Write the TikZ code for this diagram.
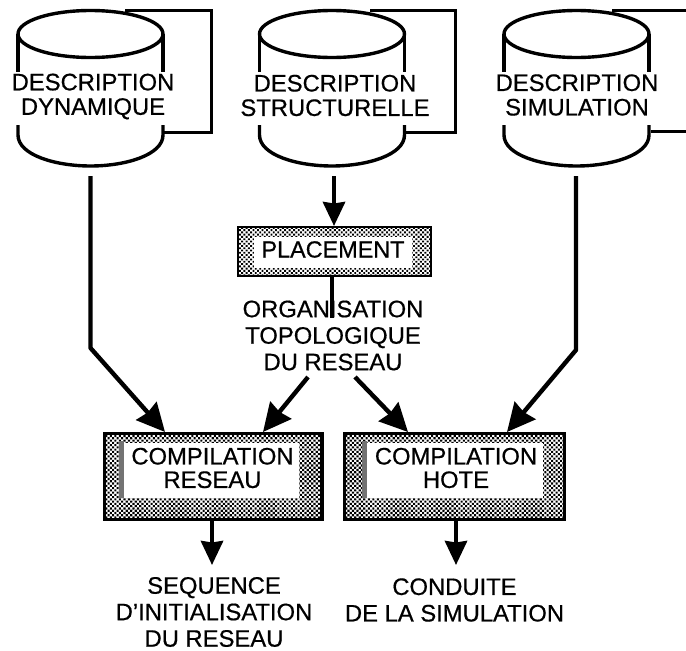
\documentclass[tikz,border=0pt]{standalone}
\usepackage{fontspec}
\setmainfont[FakeBold=0.6]{Liberation Sans}
\usetikzlibrary{arrows.meta,patterns.meta}
\tikzset{
  lbl/.style={font=\fontsize{23.8}{26.5}\selectfont,align=center,inner sep=0pt,text=black},
  flow/.style={line width=4.2pt,-{Stealth[length=24pt,width=22pt,inset=1.5pt]}},
  diag/.style={line width=4.4pt,-{Stealth[length=28pt,width=27pt,inset=2pt]}},
  plain/.style={line width=3pt},
  cyl/.style={line width=3.4pt},
  frame/.style={draw=black,pattern={Dots[radius=1.3pt,distance=3.2pt,angle=45]},pattern color=black},
  darkframe/.style={draw=black,line width=3.5pt,pattern={Dots[radius=1.5pt,distance=3.2pt,angle=45]},pattern color=black},
  inner/.style={fill=white,draw=none},
}
\newcommand{\cylinder}[1]{%
  \draw[cyl] (#1-72.5,34) arc[x radius=72.5,y radius=23.5,start angle=180,end angle=-180];
  \draw[cyl] (#1-72.5,34) -- (#1-72.5,72) (#1+72.5,34) -- (#1+72.5,72);
  \draw[cyl] (#1-72.5,125) -- (#1-72.5,135) .. controls (#1-72.5,155) and (#1-35,166) .. (#1,166)
     .. controls (#1+35,166) and (#1+72.5,155) .. (#1+72.5,135) -- (#1+72.5,125);
}
\begin{document}
\begin{tikzpicture}[x=1pt,y=-1pt]
\useasboundingbox (0,0) rectangle (686,651);
% cylinders and loops
\cylinder{90.5}
\cylinder{332}
\cylinder{576.5}
\coordinate (l1a) at (125,10); \coordinate (l1b) at (211,10); \coordinate (l1c) at (211,132); \coordinate (l1d) at (163,132);
\draw[plain] (l1a) -- (l1b) -- (l1c) -- (l1d);
\coordinate (l2a) at (370,10); \coordinate (l2b) at (455.5,10); \coordinate (l2c) at (455.5,132); \coordinate (l2d) at (405,132);
\draw[plain] (l2a) -- (l2b) -- (l2c) -- (l2d);
\coordinate (l3a) at (612,10); \coordinate (l3b) at (686,10); \coordinate (l3c) at (686,131); \coordinate (l3d) at (651,131);
\draw[plain] (l3a) -- (l3b) (l3c) -- (l3d);
% labels of the cylinders
\node[lbl] (d1) at (93,96.5) {DESCRIPTION\\[-2pt]DYNAMIQUE};
\node[lbl] (d2) at (335,95.5) {DESCRIPTION\\[-2pt]STRUCTURELLE};
\node[lbl] (d3) at (577,95) {DESCRIPTION\\[-2pt]SIMULATION};
% boxes
\path[frame,line width=2.5pt] (238,227) rectangle (431,276);
\fill[inner] (254,237) rectangle (412,268);
\path[darkframe] (104.5,433.5) rectangle (322,519.5);
\fill[black!55] (119,441) rectangle (124,498);
\fill[inner] (124,443) rectangle (299,498);
\path[darkframe] (344.5,433.5) rectangle (564.5,519.5);
\fill[black!55] (362,441) rectangle (367,498);
\fill[inner] (367,443) rectangle (543,498);
\node[lbl,font=\fontsize{23.4}{26}\selectfont] (pl) at (333,249.5) {PLACEMENT};
\node[lbl] (cr) at (212.5,468) {COMPILATION\\[-3pt]RESEAU};
\node[lbl] (ch) at (456,468) {COMPILATION\\[-3pt]HOTE};
% anchors
\coordinate (t1) at (90.5,176); \coordinate (t2) at (334,176); \coordinate (t3) at (576,176);
\coordinate (b1) at (90.5,348); \coordinate (b3) at (576,350);
\coordinate (pin) at (334,226); \coordinate (crl) at (165,432); \coordinate (crr) at (263,432);
\coordinate (chl) at (408,432); \coordinate (chr) at (507,432);
\coordinate (os) at (332,277); \coordinate (oe) at (332,318);
\coordinate (al) at (308,377); \coordinate (ar) at (355,377);
\coordinate (crb) at (212,520); \coordinate (chb) at (456,520);
\coordinate (crt) at (212,565); \coordinate (cht) at (456,565);
% connectors
\draw[diag,line join=round] (t1) -- (b1) -- (crl);
\draw[flow] (t2) -- (pin);
\draw[diag,line join=round] (t3) -- (b3) -- (chr);
\draw[line width=3.5pt] (os) -- (oe);
\draw[diag] (al) -- (crr);
\draw[diag] (ar) -- (chl);
\draw[flow] (crb) -- (crt);
\draw[flow] (chb) -- (cht);
% texts
\node[lbl] (org) at (333,335.5) {ORGANISATION\\TOPOLOGIQUE\\DU RESEAU};
\node[lbl] (seq) at (214,612) {SEQUENCE\\D'INITIALISATION\\DU RESEAU};
\node[lbl] (cond) at (454.5,600) {CONDUITE\\DE LA SIMULATION};
\end{tikzpicture}
\end{document}
